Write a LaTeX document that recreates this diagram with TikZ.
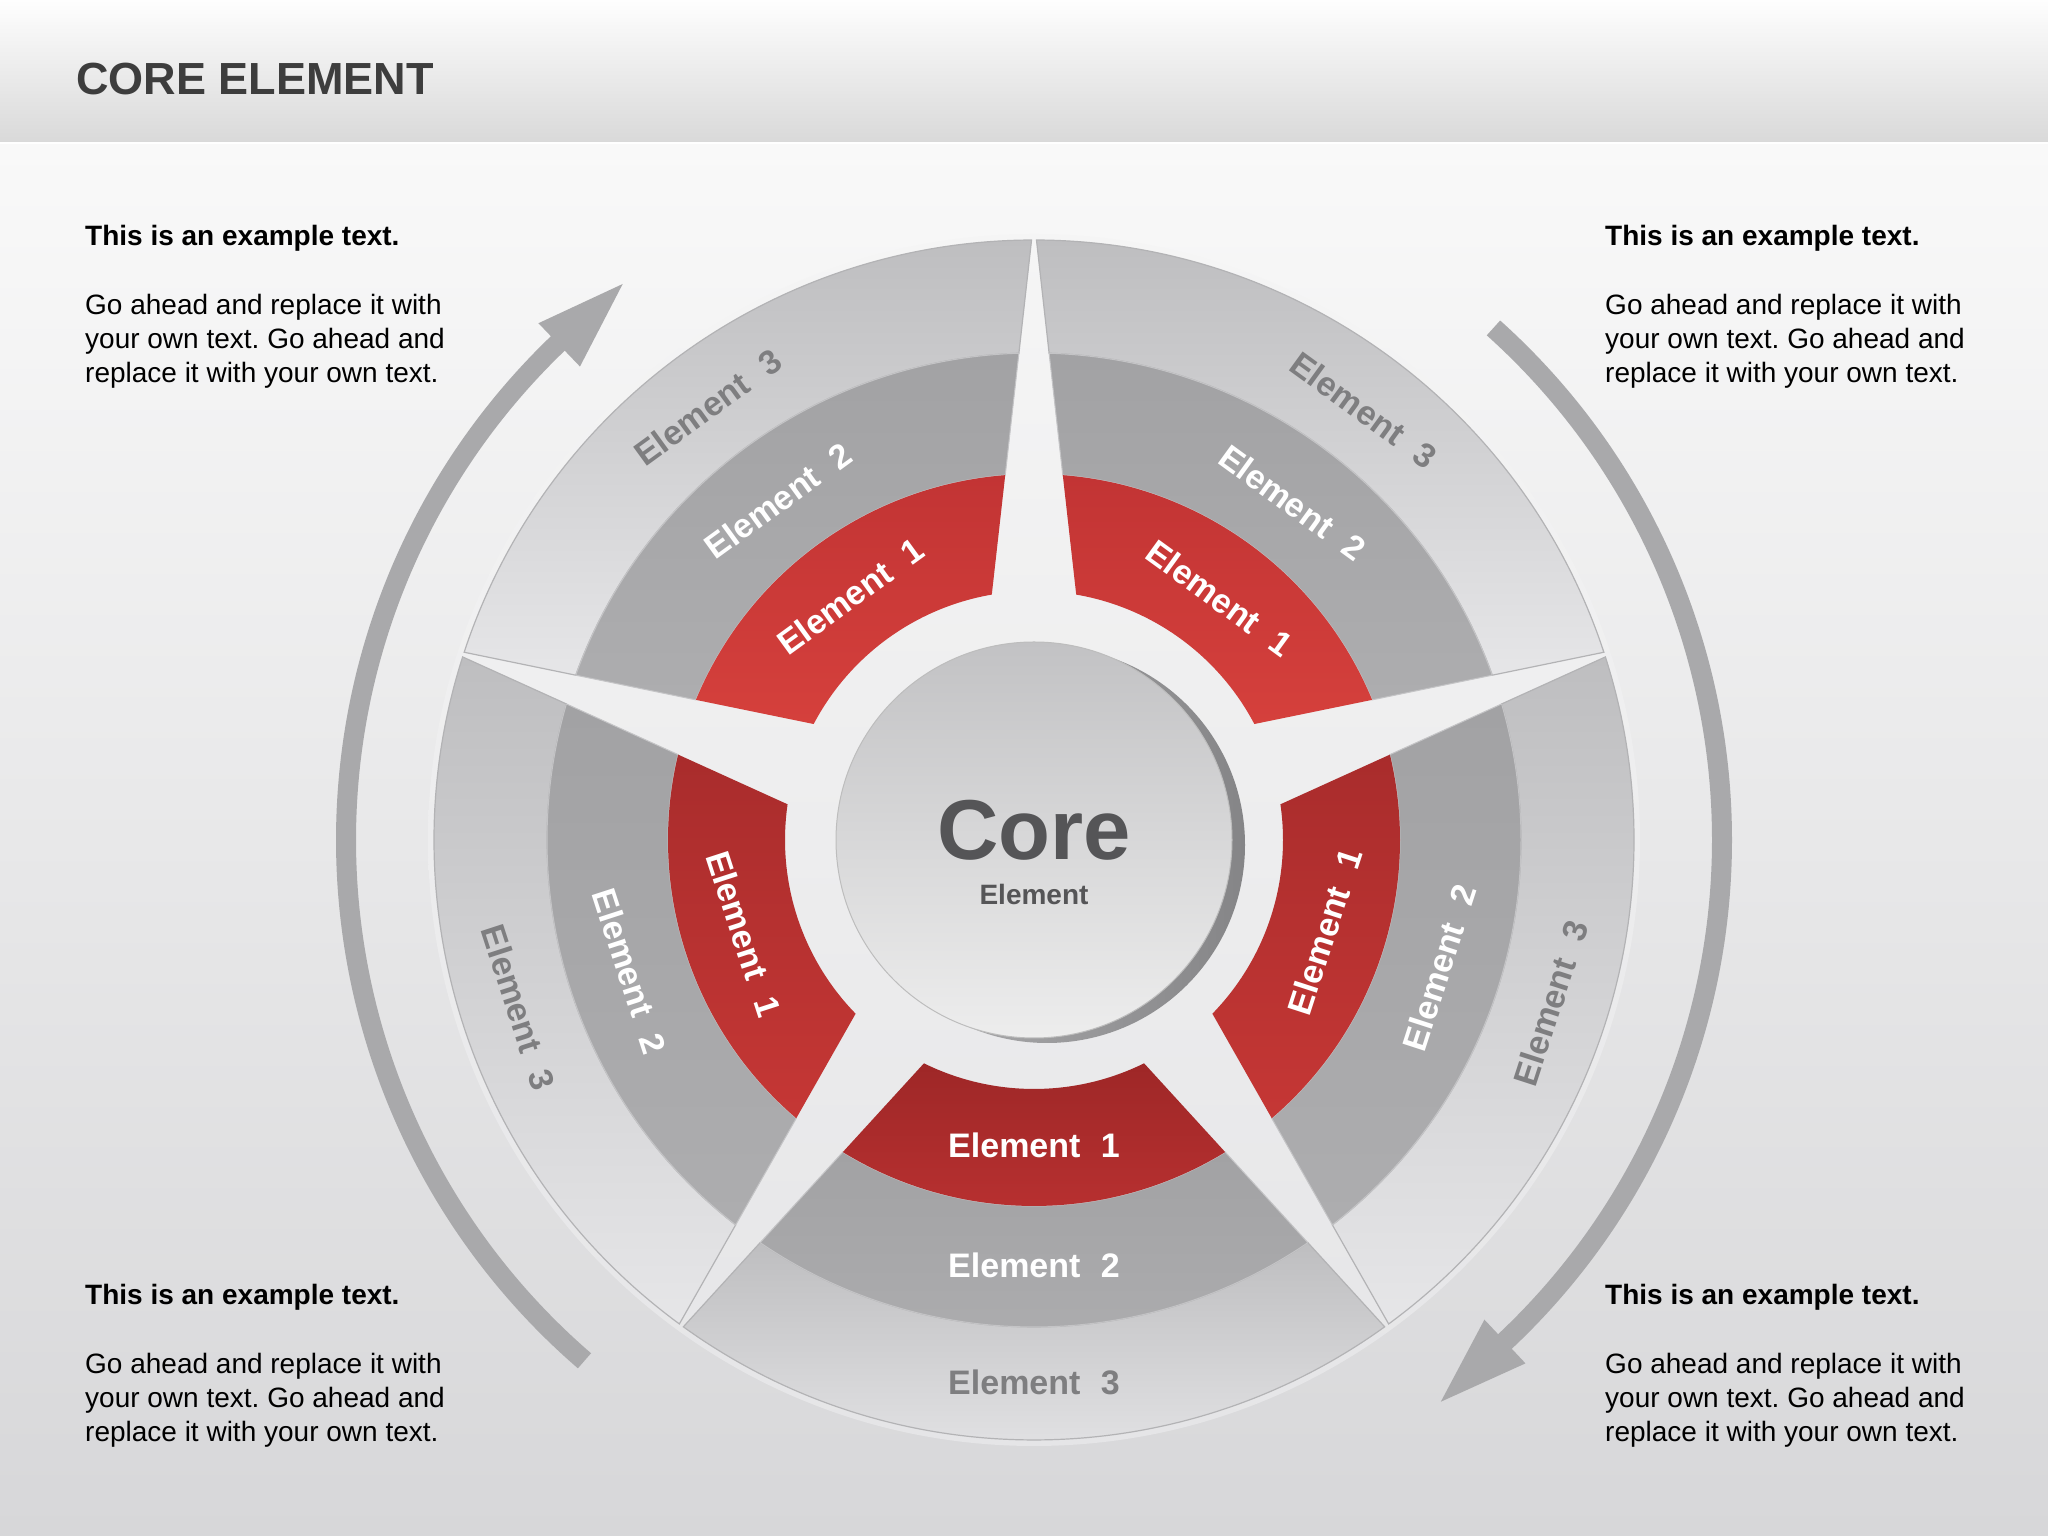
\documentclass[tikz,border=0pt]{standalone}
\usepackage{fontspec}
\setmainfont{Liberation Sans}
\usetikzlibrary{calc}
\frenchspacing

\definecolor{hdrtop}{HTML}{FEFEFE}
\definecolor{hdrbot}{HTML}{D9D9D9}
\definecolor{bgtop}{HTML}{F9F9F9}
\definecolor{bgbot}{HTML}{D7D7D9}
\definecolor{disktop}{HTML}{F5F5F5}
\definecolor{diskbot}{HTML}{E5E5E7}
\definecolor{titlegray}{HTML}{3D3D3D}
\definecolor{arrowgray}{HTML}{A9A9AB}
\definecolor{redTa}{HTML}{C23434}
\definecolor{redTb}{HTML}{D5403C}
\definecolor{redSa}{HTML}{A92C2C}
\definecolor{redSb}{HTML}{C53735}
\definecolor{redBa}{HTML}{9E2727}
\definecolor{redBb}{HTML}{BA3131}
\definecolor{outA}{HTML}{BEBEC0}
\definecolor{outB}{HTML}{E6E6E8}
\definecolor{grayA}{HTML}{A2A2A4}
\definecolor{grayB}{HTML}{ADADAF}
\definecolor{outline}{HTML}{B3B3B5}
\definecolor{grayline}{HTML}{C4C4C6}
\definecolor{lbltri}{HTML}{7E7E80}
\definecolor{coreA}{HTML}{C2C2C4}
\definecolor{coreB}{HTML}{EDEDED}
\definecolor{rimA}{HTML}{B4B4B6}
\definecolor{rimB}{HTML}{858587}
\definecolor{coreline}{HTML}{BDBDBD}
\definecolor{coretext}{HTML}{555557}

% #1 mid angle, #2 inner radius, #3 outer radius, #4 inner angular inset, #5 outer angular inset
\newcommand{\ringseg}[5]{($(C)+({#1-36+#5}:#3)$) arc[start angle={#1-36+#5}, end angle={#1+36-#5}, radius=#3] -- ($(C)+({#1+36-#4}:#2)$) arc[start angle={#1+36-#4}, end angle={#1-36+#4}, radius=#2] -- cycle}

\begin{document}
\begin{tikzpicture}[x=1pt,y=1pt,
  lbl/.style={font=\fontsize{34}{40}\selectfont\bfseries, inner sep=0pt},
  lblw/.style={lbl, text=white},
  lblg/.style={lbl, text=lbltri},
  para/.style={font=\fontsize{28}{34}\selectfont, anchor=base west, inner sep=0pt, text=black},
  parab/.style={para, font=\fontsize{28}{34}\selectfont\bfseries},
  shaft/.style={draw=arrowgray, line width=20pt, line cap=butt}]

\useasboundingbox (0,0) rectangle (2048,1536);
% background and header
\shade[top color=bgtop, bottom color=bgbot] (0,0) rectangle (2048,1392);
\shade[top color=hdrtop, bottom color=hdrbot] (0,1394) rectangle (2048,1536);
\fill[white] (0,1392) rectangle (2048,1394);
\node[anchor=base west, inner sep=0pt, font=\fontsize{45}{52}\selectfont\bfseries, text=titlegray] (title) at (76,1441) {CORE ELEMENT};

\coordinate (C) at (1034,696);

% light disk under the wheel
\shade[top color=disktop, bottom color=diskbot] (C) circle[radius=606];

% sectors
\foreach \ps/\la/\rot/\rca/\rcb [count=\i] in {126/127/36/redTa/redTb, 54/52.5/-36/redTa/redTb, -18/-17.5/72/redSa/redSb, -90/-90/0/redBa/redBb, 198/198/-72/redSa/redSb}{
  \shadedraw[top color=outA, bottom color=outB, draw=outline, line width=1.2pt] \ringseg{\ps}{487}{600}{1.78}{0.235};
  \shadedraw[top color=grayA, bottom color=grayB, draw=grayline, line width=1pt] \ringseg{\ps}{366}{487}{4.51}{1.78};
  \shade[top color=\rca, bottom color=\rcb] \ringseg{\ps}{249}{366}{9.76}{4.51};
  \node[lblw, rotate=\rot] (eA\i) at ($(C)+(\la:305)$) {Element\hspace{0.6em}1};
  \node[lblw, rotate=\rot] (eB\i) at ($(C)+(\la:425)$) {Element\hspace{0.6em}2};
  \node[lblg, rotate=\rot] (eC\i) at ($(C)+(\la:542)$) {Element\hspace{0.6em}3};
}

% core
\shade[left color=rimA, right color=rimB] ($(C)+(13,-5)$) circle[radius=198];
\shadedraw[top color=coreA, bottom color=coreB, draw=coreline, line width=1pt] (C) circle[radius=198];
\node[anchor=base, inner sep=0pt, font=\fontsize{85}{90}\selectfont\bfseries, text=coretext] (core) at (1034,676) {Core};
\node[anchor=base, inner sep=0pt, font=\fontsize{28}{32}\selectfont\bfseries, text=coretext] (coresub) at (1034,631) {Element};

% left arrow (upwards)
\draw[shaft] ($(C)+(229.2:688)$) arc[start angle=229.2, end angle=133.2, radius=688];
\coordinate (LB) at ($(C)+(133.8:686)$);
\fill[arrowgray] ($(LB)+(133.8:30)$) -- ($(LB)+(43.8:88)$) -- ($(LB)+(313.8:30)$) -- cycle;

% right arrow (downwards)
\draw[shaft] ($(C)+(48.1:688)$) arc[start angle=48.1, end angle=-47.4, radius=688];
\coordinate (RB) at ($(C)+(-46.8:688)$);
\fill[arrowgray] ($(RB)+(-46.8:30)$) -- ($(RB)+(-136.8:88)$) -- ($(RB)+(133.2:30)$) -- cycle;

% text blocks
\foreach \x/\y/\n in {85/1290/tl, 1605/1290/tr, 85/231/bl, 1605/231/br}{
  \node[parab] (\n-h) at (\x,\y) {This is an example text.};
  \node[para] (\n-1) at (\x,\y-69) {Go ahead and replace it with};
  \node[para] (\n-2) at (\x,\y-103) {your own text. Go ahead and};
  \node[para] (\n-3) at (\x,\y-137) {replace it with your own text.};
}
\end{tikzpicture}
\end{document}
